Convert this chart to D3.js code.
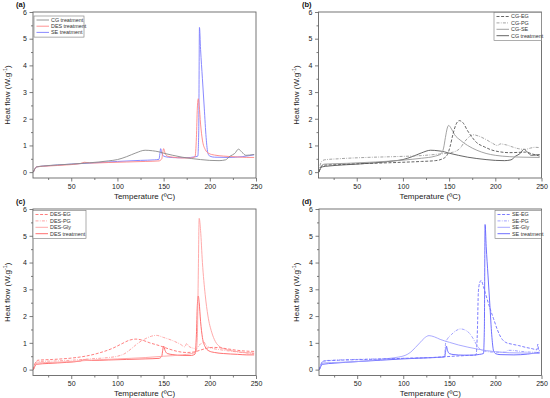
<!DOCTYPE html>
<html>
<head>
<meta charset="utf-8">
<script src="https://cdn.jsdelivr.net/npm/d3@7"></script>
<style>
  html, body { margin: 0; padding: 0; background: #fff; }
  svg { display: block; font-family: "Liberation Sans", Arial, sans-serif; }
</style>
</head>
<body>
<script>
// [temperature (ºC), heat flow (W/g)] pairs
const cgTreatment = [[9,0],[10,0.08],[11.5,0.17],[13,0.2],[20,0.23],[35,0.27],[50,0.3],[70,0.35],[90,0.42],[100,0.47],[110,0.58],[120,0.72],[130,0.82],[138,0.8],[145,0.76],[150,0.71],[160,0.63],[170,0.56],[180,0.51],[190,0.47],[200,0.44],[210,0.43],[217,0.46],[222,0.6],[227,0.7],[231,0.86],[235,0.74],[239,0.63],[243,0.64],[248,0.66]];
const desTreatment = [[9,0],[10,0.08],[11.5,0.17],[13,0.2],[25,0.23],[45,0.27],[60,0.32],[64,0.37],[67,0.36],[72,0.34],[90,0.36],[110,0.38],[130,0.4],[145,0.42],[148,0.5],[149,0.72],[150,0.88],[151.5,0.72],[154,0.6],[160,0.56],[170,0.53],[180,0.53],[184,0.58],[185.5,1.3],[186.5,2.4],[187.5,2.75],[188.5,2.5],[190,1.8],[192,1.2],[195,0.85],[199,0.7],[205,0.64],[215,0.6],[230,0.57],[240,0.55],[248,0.55]];
const seTreatment = [[9,0],[10,0.08],[11.5,0.17],[13,0.2],[25,0.24],[50,0.3],[75,0.35],[100,0.4],[125,0.44],[140,0.46],[145,0.48],[146,0.7],[146.8,0.88],[148,0.72],[150,0.6],[155,0.56],[165,0.54],[175,0.54],[183,0.57],[187,0.6],[188,1.5],[188.8,5.42],[190,4.6],[192,3.5],[194,2.4],[196,1.3],[198,0.7],[200,0.6],[205,0.56],[220,0.55],[235,0.58],[248,0.65]];

const cgEG = [[9,0],[10,0.1],[12,0.22],[15,0.26],[30,0.28],[50,0.31],[75,0.34],[100,0.37],[120,0.4],[135,0.43],[143,0.5],[148,0.65],[151,0.95],[154,1.4],[157,1.75],[161,1.93],[165,1.85],[170,1.55],[175,1.3],[180,1.1],[188,0.95],[196,0.83],[205,0.76],[215,0.73],[225,0.74],[233,0.75],[240,0.68],[248,0.6]];
const cgPG = [[9,0],[10,0.2],[12,0.4],[15,0.46],[30,0.5],[60,0.55],[90,0.58],[120,0.62],[140,0.68],[150,0.72],[157,0.78],[162,0.9],[167,1.15],[172,1.33],[176,1.4],[182,1.35],[190,1.22],[197,1.08],[202,1.0],[206,1.06],[209,1.04],[212,1.02],[218,0.95],[225,0.88],[232,0.85],[238,0.9],[243,0.93],[248,0.92]];
const cgSE = [[9,0],[10,0.1],[12,0.25],[15,0.3],[40,0.33],[70,0.38],[100,0.45],[120,0.52],[135,0.6],[141,0.68],[144,0.9],[146,1.3],[148,1.65],[149.5,1.75],[152,1.65],[156,1.4],[162,1.2],[170,1.0],[180,0.82],[190,0.7],[200,0.63],[215,0.58],[230,0.56],[248,0.55]];

const desEG = [[9,0],[10,0.15],[12,0.3],[14,0.35],[30,0.38],[50,0.43],[65,0.5],[80,0.62],[95,0.8],[105,0.97],[113,1.1],[120,1.14],[127,1.1],[135,1.0],[145,0.9],[155,0.78],[165,0.68],[175,0.64],[183,0.66],[190,0.73],[197,0.8],[203,0.83],[210,0.82],[220,0.77],[230,0.72],[240,0.69],[248,0.68]];
const desPG = [[9,0],[10,0.12],[12,0.28],[14,0.3],[30,0.32],[50,0.35],[70,0.4],[90,0.45],[100,0.5],[108,0.6],[115,0.78],[122,0.98],[130,1.15],[137,1.25],[142,1.28],[150,1.2],[160,1.08],[168,0.95],[173,0.85],[175,0.98],[177,0.88],[182,0.8],[186,0.78],[188,0.9],[190,0.95],[193,1.05],[196,0.9],[200,0.82],[210,0.75],[220,0.7],[230,0.66],[240,0.62],[248,0.6]];
const desGly = [[9,0],[10,0.1],[12,0.22],[14,0.25],[30,0.27],[50,0.3],[70,0.35],[100,0.4],[130,0.45],[150,0.5],[170,0.55],[180,0.6],[185,0.65],[186.5,1.2],[187.5,3.5],[188.5,5.65],[190,5.2],[192,4.0],[195,2.8],[198,2.0],[202,1.4],[206,1.05],[211,0.85],[218,0.75],[228,0.68],[240,0.63],[248,0.62]];

const seEG = [[9,0],[10,0.12],[12,0.28],[14,0.32],[30,0.35],[60,0.38],[100,0.42],[130,0.45],[145,0.48],[155,0.5],[170,0.53],[179,0.55],[180.5,1.5],[181.5,2.9],[183,3.25],[184.5,3.33],[187,3.1],[190,2.75],[194,2.3],[198,1.9],[202,1.5],[206,1.2],[211,1.02],[218,0.95],[225,0.9],[233,0.83],[240,0.78],[245,0.74],[246,0.95],[247,0.7],[248,0.72]];
const sePG = [[9,0],[10,0.12],[12,0.28],[14,0.33],[30,0.36],[60,0.39],[100,0.42],[130,0.45],[143,0.47],[145,0.6],[146,1.0],[148,1.15],[152,1.3],[157,1.45],[162,1.52],[167,1.48],[172,1.35],[176,1.15],[180,0.9],[184,0.75],[190,0.68],[200,0.65],[210,0.65],[214,0.72],[218,0.72],[225,0.69],[235,0.66],[248,0.64]];
const seGly = [[9,0],[10,0.1],[12,0.22],[14,0.25],[30,0.27],[50,0.3],[70,0.36],[85,0.42],[95,0.47],[102,0.53],[108,0.65],[113,0.82],[118,1.0],[123,1.18],[128,1.27],[134,1.22],[140,1.13],[150,1.02],[160,0.92],[170,0.84],[180,0.77],[190,0.71],[200,0.67],[215,0.63],[230,0.62],[248,0.6]];

const xTicks = [50, 100, 150, 200, 250];
const yTicks = [0, 1, 2, 3, 4, 5, 6];

const DASH = '3,1.6';
const DASHDOT = '3,1.3,0.8,1.3';

const panels = [
  { label: '(a)', x0: 33, x1: 256, y0: 12, y1: 178, legend: { x: 34, y: 16, w: 50 },
    series: [
      { name: 'CG treatment', data: cgTreatment, color: '#8a8a8a' },
      { name: 'DES treatment', data: desTreatment, color: '#ff8585' },
      { name: 'SE treatment', data: seTreatment, color: '#7c7cff' },
    ] },
  { label: '(b)', x0: 318.5, x1: 541.5, y0: 12, y1: 178, legend: { x: 494, y: 12.5, w: 47.5 },
    series: [
      { name: 'CG-EG', data: cgEG, color: '#555', dash: DASH },
      { name: 'CG-PG', data: cgPG, color: '#999', dash: DASHDOT },
      { name: 'CG-SE', data: cgSE, color: '#999' },
      { name: 'CG treatment', data: cgTreatment, color: '#555' },
    ] },
  { label: '(c)', x0: 33, x1: 256, y0: 209, y1: 375.5, legend: { x: 33, y: 210.5, w: 53 },
    series: [
      { name: 'DES-EG', data: desEG, color: '#ff7070', dash: DASH },
      { name: 'DES-PG', data: desPG, color: '#ff9a9a', dash: DASHDOT },
      { name: 'DES-Gly', data: desGly, color: '#ffa0a0' },
      { name: 'DES treatment', data: desTreatment, color: '#ff6060' },
    ] },
  { label: '(d)', x0: 319, x1: 541.5, y0: 209, y1: 375.5, legend: { x: 495, y: 210.5, w: 46.5 },
    series: [
      { name: 'SE-EG', data: seEG, color: '#6e6eff', dash: DASH },
      { name: 'SE-PG', data: sePG, color: '#9898ff', dash: DASHDOT },
      { name: 'SE-Gly', data: seGly, color: '#a0a0ff' },
      { name: 'SE treatment', data: seTreatment, color: '#6060ff' },
    ] },
];

const svg = d3.select('body').append('svg')
  .attr('width', 550)
  .attr('height', 398);

panels.forEach(p => drawPanel(svg, p));

function drawPanel(root, p) {
  const g = root.append('g');
  const x = d3.scaleLinear().domain([8.6, 250]).range([p.x0, p.x1]);
  const y = d3.scaleLinear().domain([-0.22, 6]).range([p.y1, p.y0]);

  // minor ticks first, then majors
  const xMinor = d3.range(25, 250, 50);
  const yMinor = d3.range(0.5, 6, 1);

  g.append('g')
    .attr('transform', 'translate(0,' + p.y1 + ')')
    .call(d3.axisBottom(x).tickValues(xTicks).tickSize(3.5).tickPadding(2.5).tickFormat(d3.format('d')));
  g.append('g')
    .attr('transform', 'translate(0,' + p.y1 + ')')
    .call(d3.axisBottom(x).tickValues(xMinor).tickSize(2).tickFormat(''));
  g.append('g')
    .attr('transform', 'translate(' + p.x0 + ',0)')
    .call(d3.axisLeft(y).tickValues(yTicks).tickSize(3.5).tickPadding(2.5).tickFormat(d3.format('d')));
  g.append('g')
    .attr('transform', 'translate(' + p.x0 + ',0)')
    .call(d3.axisLeft(y).tickValues(yMinor).tickSize(2).tickFormat(''));

  g.selectAll('.domain').remove();
  g.selectAll('.tick line').attr('stroke', '#444').attr('stroke-width', 0.7);
  g.selectAll('.tick text').attr('font-size', 7).attr('fill', '#222')
    .attr('font-family', '"Liberation Sans", Arial, sans-serif');

  // plot curves
  const clipId = 'clip' + p.label.replace(/\W/g, '');
  g.append('clipPath').attr('id', clipId)
    .append('rect').attr('x', p.x0).attr('y', p.y0)
    .attr('width', p.x1 - p.x0).attr('height', p.y1 - p.y0);

  const line = d3.line()
    .x(d => x(d[0]))
    .y(d => y(d[1]))
    .curve(d3.curveMonotoneX);

  const curves = g.append('g').attr('clip-path', 'url(#' + clipId + ')');
  p.series.slice().reverse().forEach(s => {
    curves.append('path')
      .datum(s.data)
      .attr('d', line)
      .attr('fill', 'none')
      .attr('stroke', s.color)
      .attr('stroke-width', 0.9)
      .attr('stroke-dasharray', s.dash || null);
  });

  // frame
  g.append('rect')
    .attr('x', p.x0).attr('y', p.y0)
    .attr('width', p.x1 - p.x0).attr('height', p.y1 - p.y0)
    .attr('fill', 'none')
    .attr('stroke', '#666')
    .attr('stroke-width', 0.9);

  // axis titles
  const left = p.x0 < 200;
  g.append('text')
    .attr('x', (p.x0 + p.x1) / 2)
    .attr('y', p.y1 + 20.5)
    .attr('text-anchor', 'middle')
    .attr('font-size', 8)
    .attr('fill', '#222')
    .text('Temperature (ºC)');

  const yt = g.append('text')
    .attr('transform', 'translate(' + (left ? 10 : 299) + ',' + ((p.y0 + p.y1) / 2) + ') rotate(-90)')
    .attr('text-anchor', 'middle')
    .attr('font-size', 8)
    .attr('fill', '#222');
  yt.append('tspan').text('Heat flow (W.g');
  yt.append('tspan').attr('font-size', 5.5).attr('dy', -3).text('-1');
  yt.append('tspan').attr('dy', 3).text(')');

  // panel label
  g.append('text')
    .attr('x', left ? 16 : 302)
    .attr('y', p.y0 - 5.3)
    .attr('font-size', 7.5)
    .attr('font-weight', 'bold')
    .attr('fill', '#111')
    .text(p.label);

  // legend
  const L = p.legend;
  const rowH = p.series.length === 3 ? 6.2 : 6.4;
  const lg = g.append('g');
  lg.append('rect')
    .attr('x', L.x).attr('y', L.y)
    .attr('width', L.w).attr('height', p.series.length * rowH + 2.5)
    .attr('fill', '#fff')
    .attr('stroke', '#777')
    .attr('stroke-width', 0.6);
  p.series.forEach((s, i) => {
    const cy = L.y + 4 + i * rowH;
    lg.append('line')
      .attr('x1', L.x + 2.5).attr('x2', L.x + 15)
      .attr('y1', cy).attr('y2', cy)
      .attr('stroke', s.color)
      .attr('stroke-width', 0.9)
      .attr('stroke-dasharray', s.dash || null);
    lg.append('text')
      .attr('x', L.x + 17)
      .attr('y', cy + 1.9)
      .attr('font-size', 5.4)
      .attr('fill', '#333')
      .text(s.name);
  });
}
</script>
</body>
</html>
